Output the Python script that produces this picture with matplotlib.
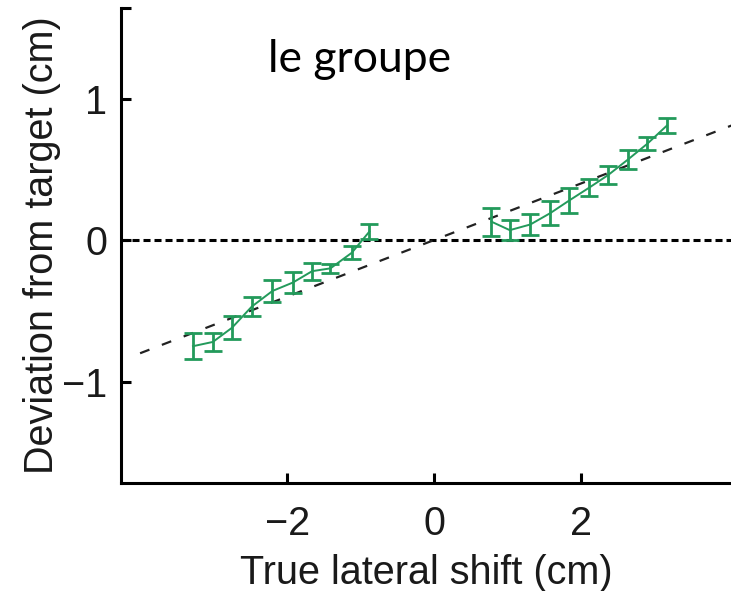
import matplotlib.pyplot as plt
import numpy as np

# mean deviation per shift, two groups (left / right of zero)
left_x = [-3.28, -3.01, -2.75, -2.48, -2.20, -1.92, -1.66, -1.41, -1.12, -0.88]
left_y = [-0.75, -0.72, -0.62, -0.47, -0.36, -0.30, -0.22, -0.20, -0.09, 0.06]
left_err = [0.09, 0.065, 0.08, 0.07, 0.08, 0.075, 0.06, 0.03, 0.045, 0.055]

right_x = [0.78, 1.03, 1.31, 1.58, 1.84, 2.11, 2.37, 2.64, 2.90, 3.17]
right_y = [0.13, 0.07, 0.11, 0.19, 0.28, 0.37, 0.46, 0.57, 0.68, 0.81]
right_err = [0.10, 0.07, 0.075, 0.085, 0.09, 0.06, 0.065, 0.065, 0.045, 0.055]

# reference slope line
ref_x = [-4.0, 4.05]
ref_y = [-0.8, 0.81]

green = '#239a5b'

plt.rcParams['font.family'] = 'Liberation Sans'

fig = plt.figure(figsize=(7.31, 5.91), dpi=100)
ax = fig.add_axes([0.1655, 0.1827, 0.8345, 0.8038])

ax.axhline(0, color='black', lw=2.2, dashes=(2.3, 1.3), zorder=1)
ax.plot(ref_x, ref_y, color='#222222', lw=1.6, dashes=(4.5, 6), zorder=1)

for xs, ys, es in [(left_x, left_y, left_err), (right_x, right_y, right_err)]:
    ax.errorbar(xs, ys, yerr=es, color=green, lw=1.4, elinewidth=2.0,
                capsize=6.5, capthick=2.0, zorder=3)

ax.set_xlim(-4.26, 4.04)
ax.set_ylim(-1.717, 1.64)
ax.set_xticks([-2, 0, 2])
ax.set_yticks([-1, 0, 1])
ax.set_yticks([1.64], minor=True)

for s in ['top', 'right']:
    ax.spines[s].set_visible(False)
for s in ['left', 'bottom']:
    ax.spines[s].set_linewidth(2.2)

ax.tick_params(direction='in', length=7, width=2.2, labelsize=28.5,
               labelcolor='#1a1a1a')
ax.tick_params(axis='x', pad=16)
ax.tick_params(axis='y', pad=10)
ax.tick_params(axis='y', which='minor', direction='in', length=7, width=2.2)

ax.set_xlabel('True lateral shift (cm)', fontsize=28.5, color='#1a1a1a', labelpad=8)
ax.set_ylabel('Deviation from target (cm)', fontsize=28.5, color='#1a1a1a', labelpad=1)

fig.text(0.367, 0.878, 'le groupe', fontsize=32, family='Lato', va='baseline')

fig.savefig('out.png', dpi=100)
